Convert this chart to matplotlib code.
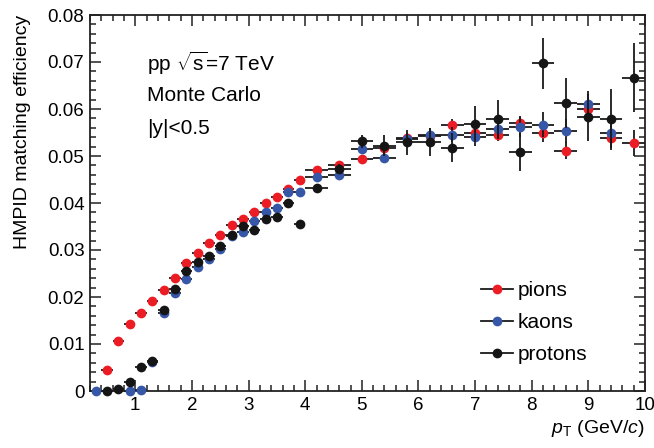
import matplotlib
matplotlib.use("Agg")
import matplotlib.pyplot as plt
from matplotlib.lines import Line2D
from matplotlib.ticker import MultipleLocator, FuncFormatter

plt.rcParams['font.family'] = ['Liberation Sans', 'DejaVu Sans']
plt.rcParams['mathtext.fontset'] = 'custom'
plt.rcParams['mathtext.rm'] = 'Liberation Sans'
plt.rcParams['mathtext.it'] = 'Liberation Sans:italic'
plt.rcParams['mathtext.bf'] = 'Liberation Sans:bold'

# ---------------- data ----------------
pion_pt = [0.5, 0.7, 0.9, 1.1, 1.3, 1.5, 1.7, 1.9, 2.1, 2.3, 2.5, 2.7, 2.9, 3.1, 3.3, 3.5, 3.7, 3.9,
           4.2, 4.6, 5.0, 5.4, 5.8, 6.2, 6.6, 7.0, 7.4, 7.8, 8.2, 8.6, 9.0, 9.4, 9.8]
pion_eff = [0.0045, 0.0107, 0.0143, 0.0166, 0.0191, 0.0215, 0.0241, 0.0273, 0.0294, 0.0315, 0.0332,
            0.0353, 0.0366, 0.0381, 0.0399, 0.0412, 0.0430, 0.0450,
            0.0470, 0.0481, 0.0493, 0.0518, 0.0538, 0.0543, 0.0567, 0.0550, 0.0545, 0.0570,
            0.0550, 0.0511, 0.0601, 0.0538, 0.0528]
pion_xerr = [0.1] * 18 + [0.2] * 15
pion_yerr = [0.0002, 0.0002, 0.0002, 0.0002, 0.0002, 0.0002, 0.0002, 0.0002, 0.0002, 0.0002, 0.0003,
             0.0003, 0.0003, 0.0003, 0.0003, 0.0003, 0.0004, 0.0004,
             0.0004, 0.0005, 0.0006, 0.0008, 0.0009, 0.0010, 0.0011, 0.0013, 0.0014, 0.0016,
             0.0020, 0.0018, 0.0020, 0.0020, 0.0027]

kaon_pt = [0.3, 0.9, 1.1, 1.3, 1.5, 1.7, 1.9, 2.1, 2.3, 2.5, 2.7, 2.9, 3.1, 3.3, 3.5, 3.7, 3.9,
           4.2, 4.6, 5.0, 5.4, 5.8, 6.2, 6.6, 7.0, 7.4, 7.8, 8.2, 8.6, 9.0, 9.4]
kaon_eff = [0.0, 0.0, 0.0003, 0.0061, 0.0165, 0.0209, 0.0238, 0.0263, 0.0281, 0.0303, 0.0329,
            0.0339, 0.0361, 0.0381, 0.0389, 0.0424, 0.0424,
            0.0456, 0.0460, 0.0514, 0.0496, 0.0537, 0.0545, 0.0545, 0.0540, 0.0557, 0.0562,
            0.0567, 0.0553, 0.0610, 0.0548]
kaon_xerr = [0.1] * 17 + [0.2] * 14
kaon_yerr = [0.0001, 0.0001, 0.0002, 0.0003, 0.0003, 0.0003, 0.0003, 0.0003, 0.0003, 0.0003, 0.0004,
             0.0004, 0.0004, 0.0004, 0.0005, 0.0005, 0.0005,
             0.0005, 0.0006, 0.0008, 0.0010, 0.0012, 0.0014, 0.0016, 0.0018, 0.0020, 0.0022,
             0.0027, 0.0025, 0.0028, 0.0030]

proton_pt = [0.5, 0.7, 0.9, 1.1, 1.3, 1.5, 1.7, 1.9, 2.1, 2.3, 2.5, 2.7, 2.9, 3.1, 3.3, 3.5, 3.7, 3.9,
             4.2, 4.6, 5.0, 5.4, 5.8, 6.2, 6.6, 7.0, 7.4, 7.8, 8.2, 8.6, 9.0, 9.4, 9.8]
proton_eff = [0.0, 0.0004, 0.0020, 0.0052, 0.0063, 0.0172, 0.0216, 0.0256, 0.0275, 0.0287, 0.0308,
              0.0332, 0.0351, 0.0343, 0.0366, 0.0371, 0.0399, 0.0355,
              0.0431, 0.0472, 0.0531, 0.0522, 0.0529, 0.0529, 0.0518, 0.0568, 0.0579, 0.0509,
              0.0697, 0.0613, 0.0582, 0.0578, 0.0667]
proton_xerr = [0.1] * 18 + [0.2] * 15
proton_yerr = [0.0002, 0.0002, 0.0003, 0.0003, 0.0003, 0.0004, 0.0004, 0.0004, 0.0004, 0.0004, 0.0005,
               0.0005, 0.0005, 0.0006, 0.0006, 0.0006, 0.0007, 0.0007,
               0.0008, 0.0011, 0.0014, 0.0022, 0.0026, 0.0030, 0.0030, 0.0038, 0.0040, 0.0040,
               0.0054, 0.0054, 0.0050, 0.0065, 0.0074]

series_labels = ['pions', 'kaons', 'protons']
series_colors = ['#ec1c24', '#3656a8', '#151515']

info_lines = [r'pp $\sqrt{\mathrm{s}}$=7 TeV', 'Monte Carlo', '|y|<0.5']

# ---------------- figure ----------------
fig = plt.figure(figsize=(6.54, 4.48), dpi=100)
ax = fig.add_axes([90 / 654, 1 - 391 / 448, 555 / 654, 376 / 448])

datasets = [(pion_pt, pion_eff, pion_xerr, pion_yerr),
            (kaon_pt, kaon_eff, kaon_xerr, kaon_yerr),
            (proton_pt, proton_eff, proton_xerr, proton_yerr)]
for i, ((x, y, xe, ye), col) in enumerate(zip(datasets, series_colors)):
    ax.errorbar(x, y, xerr=xe, yerr=ye, fmt='o', color=col, ecolor='#1a1a1a',
                elinewidth=1.3, capsize=0, markersize=7.0, markeredgewidth=0,
                zorder=3 + i, clip_on=False)

ax.set_xlim(0.2, 10)
ax.set_ylim(0, 0.08)
ax.xaxis.set_major_locator(MultipleLocator(1))
ax.xaxis.set_minor_locator(MultipleLocator(0.2))
ax.yaxis.set_major_locator(MultipleLocator(0.01))
ax.yaxis.set_minor_locator(MultipleLocator(0.002))
ax.yaxis.set_major_formatter(FuncFormatter(lambda v, p: '0' if abs(v) < 1e-9 else f'{v:.2f}'))
ax.tick_params(which='both', direction='in', top=True, right=True, width=1.1, color='#222222')
ax.tick_params(which='major', length=8, labelsize=13.5, pad=4)
ax.tick_params(which='minor', length=4)
for s in ax.spines.values():
    s.set_linewidth(1.3)
    s.set_color('#222222')

ax.set_ylabel('HMPID matching efficiency', fontsize=14, loc='top', labelpad=12)
ax.set_xlabel(r'$p_{\mathrm{T}}$ (GeV/$c$)', fontsize=14, loc='right', labelpad=3)

for k, t in enumerate(info_lines):
    ax.text(0.103, 0.872 - 0.087 * k, t, transform=ax.transAxes, fontsize=15,
            ha='left', va='center')

handles = [Line2D([], [], color='#1a1a1a', lw=1.3, marker='o', markersize=7.0,
                  markerfacecolor=c, markeredgewidth=0) for c in series_colors]
ax.legend(handles, series_labels, loc='upper left', bbox_to_anchor=(0.705, 0.292),
          frameon=False, fontsize=15, handlelength=1.5, handletextpad=0.25,
          labelspacing=0.62, borderpad=0, borderaxespad=0)

fig.savefig('out.png', dpi=100)
